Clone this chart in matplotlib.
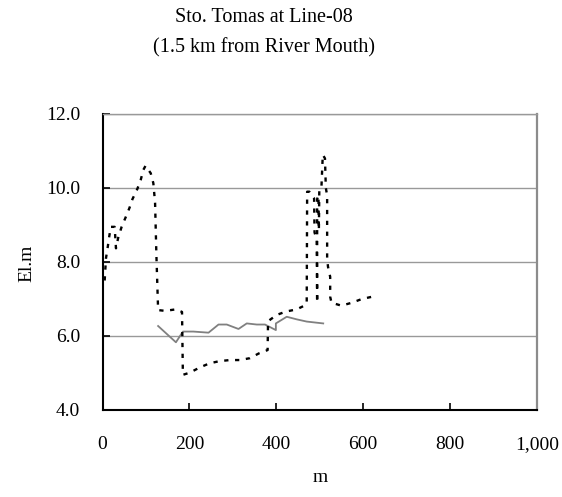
import matplotlib
matplotlib.use("Agg")
import matplotlib.pyplot as plt
from matplotlib.ticker import FuncFormatter, FixedLocator

plt.rcParams['font.family'] = ['Liberation Serif', 'DejaVu Serif']

title_lines = ["Sto. Tomas at Line-08", "(1.5 km from River Mouth)"]
x_label = "m"
y_label = "El.m"

x_ticks = [0, 200, 400, 600, 800, 1000]
y_ticks = [4.0, 6.0, 8.0, 10.0, 12.0]

# dotted black profile
bed_m = [5, 8, 12, 15, 19, 28, 31, 36, 44, 53, 62, 69, 80, 88, 94, 99, 111, 117,
         121, 124, 128, 144, 169, 183, 185, 201, 224, 246, 269, 293, 316, 339, 360,
         380, 381, 401, 422, 447, 468, 470, 471, 476, 487, 488, 493, 494, 494, 497,
         498, 499, 504, 507, 512, 514, 517, 517, 519, 524, 524, 527, 550, 574, 597, 620, 625]
bed_el = [7.5, 8.1, 8.4, 8.65, 8.95, 8.95, 8.37, 8.65, 8.95, 9.2, 9.46, 9.7, 9.97, 10.22,
          10.49, 10.6, 10.4, 10.13, 9.6, 8.2, 6.7, 6.68, 6.72, 6.65, 4.95, 5.01, 5.15,
          5.26, 5.32, 5.35, 5.35, 5.4, 5.53, 5.62, 6.4, 6.57, 6.66, 6.72, 6.84, 6.9,
          9.9, 9.9, 9.72, 8.8, 8.6, 6.9, 9.7, 9.8, 8.86, 10.0, 10.05, 10.9, 10.8, 10.0, 9.8,
          8.1, 7.87, 7.6, 7.06, 6.9, 6.82, 6.9, 7.0, 7.06, 7.1]

# solid gray profile
gray_m = [128, 169, 185, 209, 244, 267, 286, 313, 332, 355, 374, 399, 399, 424, 447, 470, 508]
gray_el = [6.27, 5.83, 6.12, 6.12, 6.09, 6.31, 6.31, 6.19, 6.34, 6.31, 6.31, 6.16, 6.34,
           6.52, 6.45, 6.39, 6.34]

fig = plt.figure(figsize=(5.62, 4.97), dpi=100)
ax = fig.add_axes([102.5 / 562, 1 - 410 / 497, (537 - 102.5) / 562, (410 - 114) / 497])

ax.set_xlim(0, 1000)
ax.set_ylim(4, 12)

for y in y_ticks[1:]:
    ax.axhline(y, color='#999999', lw=1.0, zorder=1)

ax.plot(gray_m, gray_el, color='#808080', lw=1.3, zorder=3)
ax.plot(bed_m, bed_el, color='black', lw=1.7, linestyle=(0, (1.8, 2.8)), zorder=4)

ax.xaxis.set_major_locator(FixedLocator(x_ticks))
ax.yaxis.set_major_locator(FixedLocator(y_ticks))
ax.xaxis.set_major_formatter(FuncFormatter(lambda v, p: f"{int(v):,}"))
ax.yaxis.set_major_formatter(FuncFormatter(lambda v, p: f"{v:.1f}"))
ax.tick_params(axis='x', direction='in', length=5, width=1.2, pad=19, labelsize=14)
ax.tick_params(axis='y', direction='in', length=5, width=1.2, pad=16, labelsize=14)

for s in ['left', 'bottom']:
    ax.spines[s].set_color('black')
    ax.spines[s].set_linewidth(1.5)
ax.spines['top'].set_color('#999999')
ax.spines['top'].set_linewidth(1.0)
ax.spines['right'].set_color('#8c8c8c')
ax.spines['right'].set_linewidth(1.6)

fig.text(264 / 562, 1 - 18 / 497, title_lines[0], ha='center', va='center', fontsize=14.5)
fig.text(264 / 562, 1 - 48 / 497, title_lines[1], ha='center', va='center', fontsize=14.5)
fig.text(320 / 562, 1 - 478 / 497, x_label, ha='center', va='center', fontsize=14)
fig.text(27 / 562, 1 - 263 / 497, y_label, ha='center', va='center', fontsize=14, rotation=90)

fig.savefig("out.png", dpi=100)
